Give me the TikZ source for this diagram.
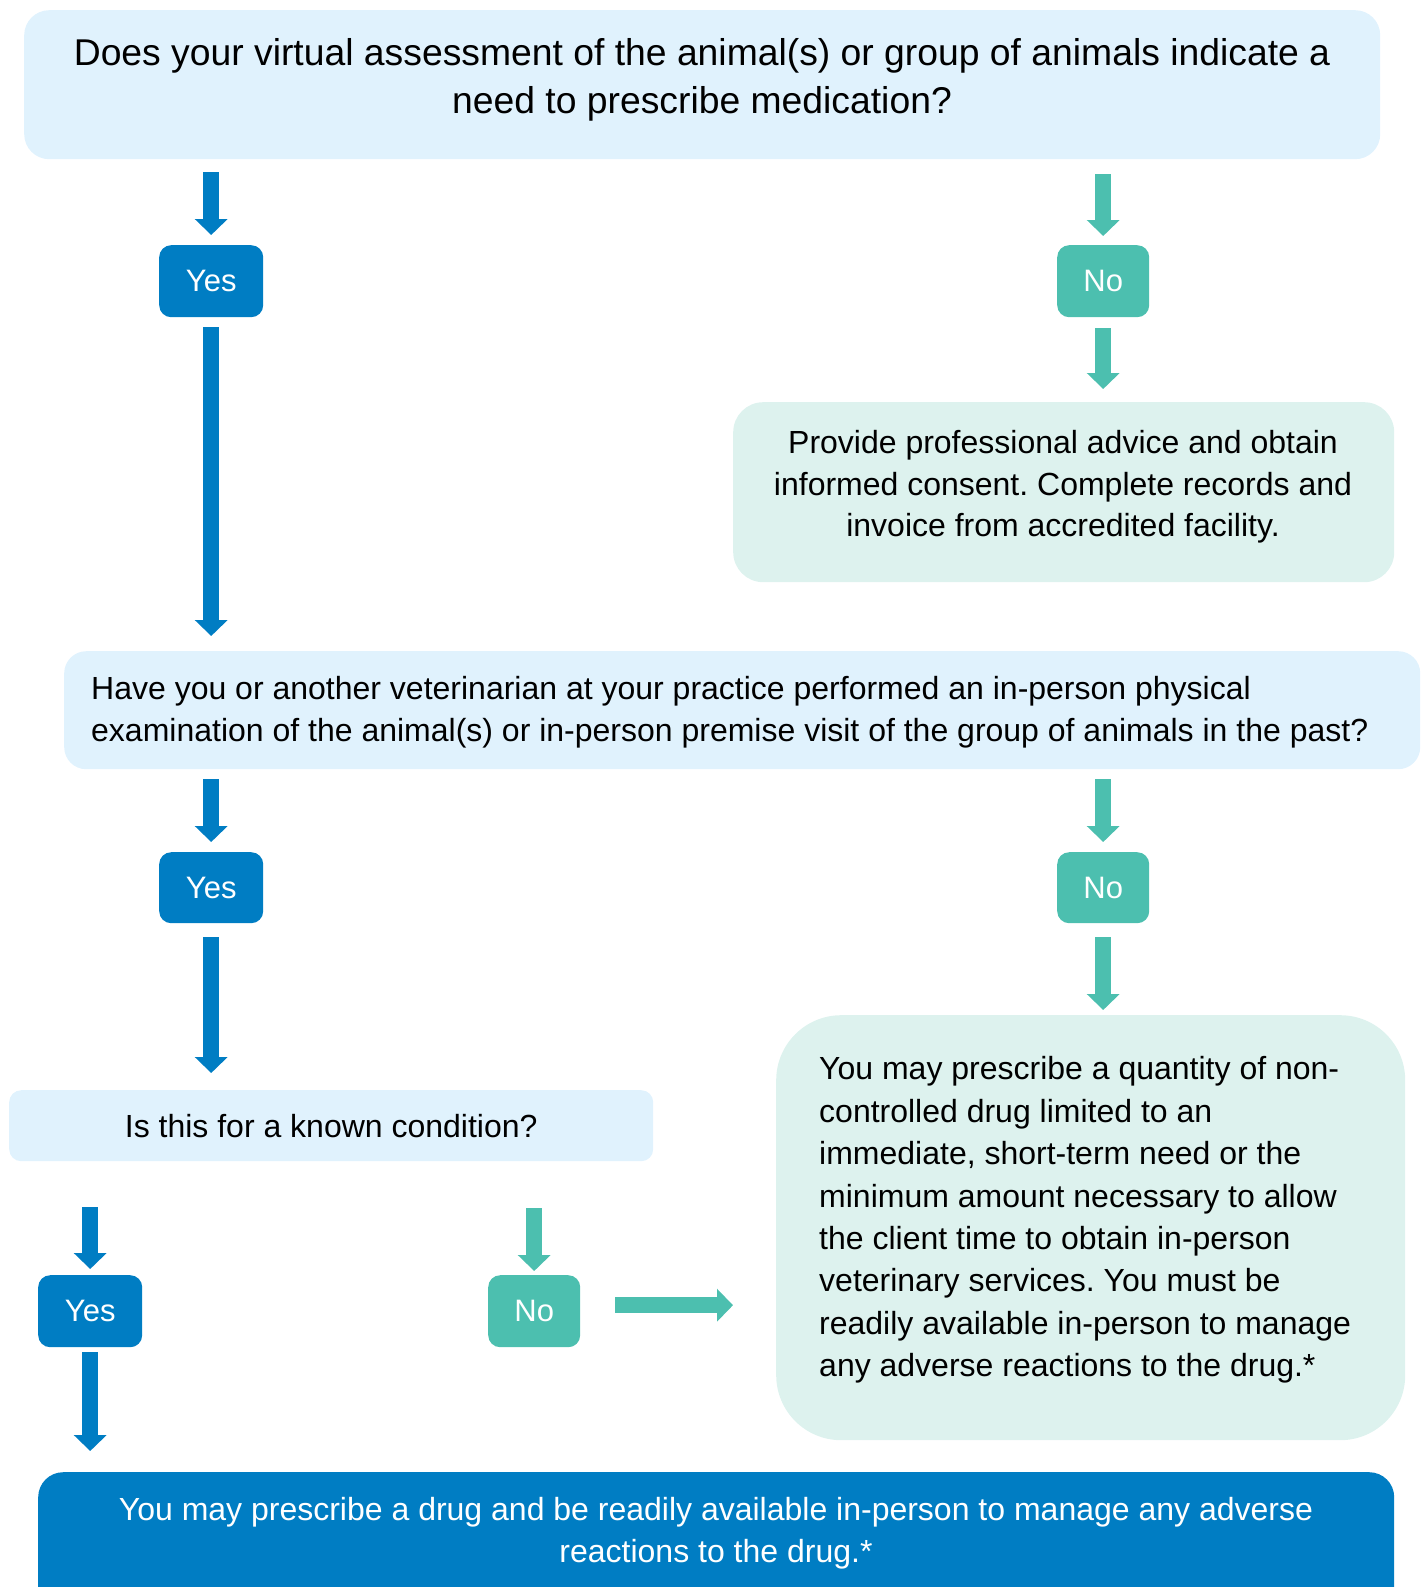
\documentclass[tikz,border=0pt]{standalone}
\usepackage{fontspec}
\setmainfont{Liberation Sans}
\usetikzlibrary{arrows.meta,calc}
\definecolor{qblue}{HTML}{E0F2FD}
\definecolor{tealbg}{HTML}{DDF2EE}
\definecolor{yblue}{HTML}{007DC3}
\definecolor{nteal}{HTML}{4CBFAF}
\frenchspacing
\tikzset{
  box/.style={anchor=north west, inner sep=0pt, draw=none},
  qbox/.style={box, fill=qblue},
  tbox/.style={box, fill=tealbg},
  yesbox/.style={box, fill=yblue, rounded corners=12pt, minimum width=104pt, text=white, font=\fontsize{31}{36}\selectfont},
  nobox/.style={box, fill=nteal, rounded corners=12pt, minimum width=92pt, text=white, font=\fontsize{31}{36}\selectfont},
  txt/.style={inner sep=0pt, font=\fontsize{32}{41.6}\selectfont},
  barrow/.style={draw=yblue, line width=16pt, -{Triangle[width=32pt,length=16pt,fill=yblue]}},
  tarrow/.style={draw=nteal, line width=16pt, -{Triangle[width=32pt,length=16pt,fill=nteal]}},
}
\begin{document}
\begin{tikzpicture}[x=1pt,y=-1pt]
\useasboundingbox (0,0) rectangle (1422,1587);
% boxes
\node[qbox, rounded corners=25pt, minimum width=1356pt, minimum height=149pt] (q1) at (24,10) {};
\node[txt, align=center, font=\fontsize{37.3}{48}\selectfont] (q1t) at (702,80) {Does your virtual assessment of the animal(s) or group of animals indicate a\\need to prescribe medication?};

\node[yesbox, minimum height=72pt] (yes1) at (159,245) {Yes};
\node[nobox, minimum height=72pt] (no1) at (1057,245) {No};

\node[tbox, rounded corners=30pt, minimum width=661pt, minimum height=180pt] (box2) at (733,402) {};
\node[txt, align=center] (box2t) at (1063,487) {Provide professional advice and obtain\\informed consent. Complete records and\\invoice from accredited facility.};

\node[qbox, rounded corners=22pt, minimum width=1356pt, minimum height=118pt] (q2) at (64,651) {};
\node[txt, align=left, anchor=west] (q2t) at (91,712) {Have you or another veterinarian at your practice performed an in-person physical\\examination of the animal(s) or in-person premise visit of the group of animals in the past?};

\node[yesbox, minimum height=71pt] (yes2) at (159,852) {Yes};
\node[nobox, minimum height=71pt] (no2) at (1057,852) {No};

\node[qbox, rounded corners=12pt, minimum width=644pt, minimum height=71pt, font=\fontsize{32}{41.6}\selectfont] (q3) at (9,1090) {Is this for a known condition?};

\node[tbox, rounded corners=65pt, minimum width=629pt, minimum height=425pt] (box4) at (776,1015) {};
\node[txt, align=left, anchor=west, font=\fontsize{32}{42.4}\selectfont] (box4t) at (819,1220) {You may prescribe a quantity of non-\\controlled drug limited to an\\immediate, short-term need or the\\minimum amount necessary to allow\\the client time to obtain in-person\\veterinary services. You must be\\readily available in-person to manage\\any adverse reactions to the drug.*};

\node[yesbox, minimum height=72pt] (yes3) at (38,1275) {Yes};
\node[nobox, minimum height=72pt] (no3) at (488,1275) {No};

\node[box, fill=yblue, rounded corners=25pt, minimum width=1356pt, minimum height=150pt] (bot) at (38,1472) {};
\node[txt, align=center, text=white] (bott) at (716,1533.5) {You may prescribe a drug and be readily available in-person to manage any adverse\\reactions to the drug.*};

% connectors
\draw[barrow, shorten <=13pt, shorten >=10pt] (q1.south -| yes1.north) -- (yes1.north);
\draw[tarrow, shorten <=15pt, shorten >=9pt] (q1.south -| no1.north) -- (no1.north);
\draw[barrow, shorten <=10pt, shorten >=15pt] (yes1.south) -- (yes1.south |- q2.north);
\draw[tarrow, shorten <=11pt, shorten >=13pt] (no1.south) -- (no1.south |- box2.north);
\draw[barrow, shorten <=10pt, shorten >=10pt] (q2.south -| yes2.north) -- (yes2.north);
\draw[tarrow, shorten <=10pt, shorten >=10pt] (q2.south -| no2.north) -- (no2.north);
\draw[barrow, shorten <=14pt, shorten >=17pt] (yes2.south) -- (yes2.south |- q3.north);
\draw[tarrow, shorten <=14pt, shorten >=5pt] (no2.south) -- (no2.south |- box4.north);
\draw[barrow, shorten <=46pt, shorten >=6pt] (q3.south -| yes3.north) -- (yes3.north);
\draw[tarrow, shorten <=47pt, shorten >=4pt] (q3.south -| no3.north) -- (no3.north);
\draw[tarrow, shorten <=35pt, shorten >=43pt] ([yshift=6pt]no3.east) -- ([yshift=6pt]no3.east -| box4.west);
\draw[barrow, shorten <=5pt, shorten >=21pt] (yes3.south) -- (yes3.south |- bot.north);
\end{tikzpicture}
\end{document}
